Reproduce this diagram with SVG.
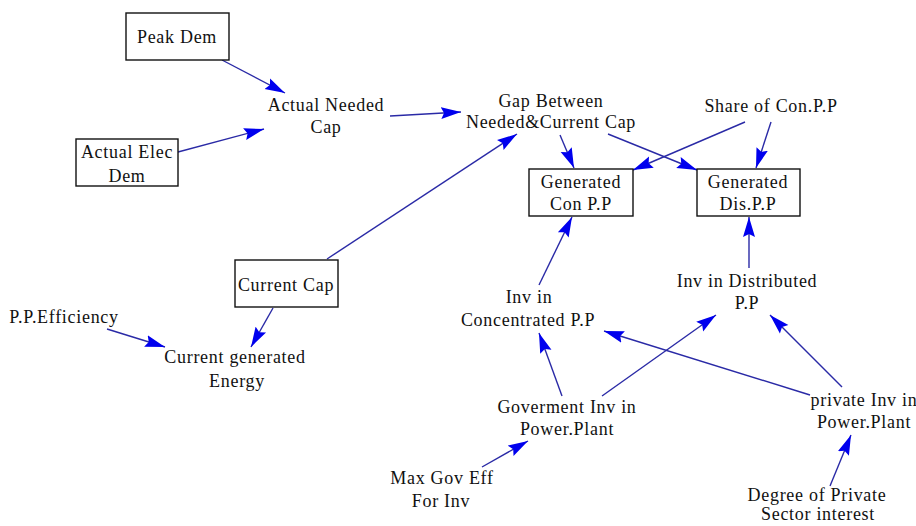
<svg xmlns="http://www.w3.org/2000/svg" width="916" height="526" viewBox="0 0 916 526">
<style>
  text { font-family: "Liberation Serif", "Times New Roman", serif; font-size: 18px; fill: #111; text-anchor: middle; letter-spacing: 0.7px; }
  .box { fill: #fff; stroke: #111; stroke-width: 1.4; }
  .link { stroke: #2a2aa6; stroke-width: 1.4; fill: none; marker-end: url(#arr); }
</style>
<defs>
  <marker id="arr" markerUnits="userSpaceOnUse" markerWidth="21" markerHeight="14" refX="20" refY="7" orient="auto">
    <path d="M0,1 L20,7 L0,13 L3,7 z" fill="#0000ee"/>
  </marker>
</defs>
<rect width="916" height="526" fill="#fff"/>
<g id="connectors">
  <line class="link" x1="222" y1="60" x2="285" y2="93"/>
  <line class="link" x1="178" y1="152" x2="264" y2="129"/>
  <line class="link" x1="390" y1="116" x2="461" y2="112"/>
  <line class="link" x1="327" y1="259" x2="517" y2="134"/>
  <line class="link" x1="560" y1="135" x2="574" y2="168"/>
  <line class="link" x1="608" y1="134" x2="697" y2="170"/>
  <line class="link" x1="745" y1="122" x2="633" y2="170"/>
  <line class="link" x1="771" y1="122" x2="756" y2="168"/>
  <line class="link" x1="539" y1="285" x2="572" y2="217"/>
  <line class="link" x1="749" y1="268" x2="749" y2="217"/>
  <line class="link" x1="562" y1="396" x2="539" y2="333"/>
  <line class="link" x1="602" y1="396" x2="716" y2="315"/>
  <line class="link" x1="810" y1="395" x2="604" y2="331"/>
  <line class="link" x1="842" y1="387" x2="770" y2="315"/>
  <line class="link" x1="482" y1="467" x2="528" y2="441"/>
  <line class="link" x1="830" y1="486" x2="851" y2="435"/>
  <line class="link" x1="107" y1="329" x2="165" y2="347"/>
  <line class="link" x1="273" y1="308" x2="251" y2="347"/>
</g>
<g id="peak-dem">
  <rect class="box" x="126" y="13" width="103" height="47"/>
  <text x="177" y="43">Peak Dem</text>
</g>
<g id="actual-elec-dem">
  <rect class="box" x="76" y="139" width="102" height="47"/>
  <text x="127" y="158">Actual Elec</text>
  <text x="127" y="182">Dem</text>
</g>
<g id="actual-needed-cap">
  <text x="326" y="111">Actual Needed</text>
  <text x="326" y="133">Cap</text>
</g>
<g id="gap">
  <text x="551" y="107">Gap Between</text>
  <text x="551" y="128">Needed&amp;Current Cap</text>
</g>
<g id="share-con-pp">
  <text x="771" y="112">Share of Con.P.P</text>
</g>
<g id="generated-con-pp">
  <rect class="box" x="529" y="169" width="104" height="47"/>
  <text x="581" y="188">Generated</text>
  <text x="581" y="210">Con P.P</text>
</g>
<g id="generated-dis-pp">
  <rect class="box" x="697" y="169" width="103" height="47"/>
  <text x="748" y="188">Generated</text>
  <text x="748" y="210">Dis.P.P</text>
</g>
<g id="inv-distributed">
  <text x="747" y="287">Inv in Distributed</text>
  <text x="747" y="309">P.P</text>
</g>
<g id="inv-concentrated">
  <text x="529" y="303">Inv in</text>
  <text x="528" y="326">Concentrated P.P</text>
</g>
<g id="current-cap">
  <rect class="box" x="235" y="260" width="103" height="47"/>
  <text x="286" y="291">Current Cap</text>
</g>
<g id="pp-efficiency">
  <text x="64" y="323">P.P.Efficiency</text>
</g>
<g id="current-generated-energy">
  <text x="235" y="363">Current generated</text>
  <text x="237" y="387">Energy</text>
</g>
<g id="gov-inv">
  <text x="567" y="413">Goverment Inv in</text>
  <text x="567" y="435">Power.Plant</text>
</g>
<g id="max-gov-eff">
  <text x="442" y="484">Max Gov Eff</text>
  <text x="441" y="507">For Inv</text>
</g>
<g id="private-inv">
  <text x="864" y="406">private Inv in</text>
  <text x="864" y="428">Power.Plant</text>
</g>
<g id="degree-private">
  <text x="817" y="501">Degree of Private</text>
  <text x="818" y="520">Sector interest</text>
</g>
</svg>
